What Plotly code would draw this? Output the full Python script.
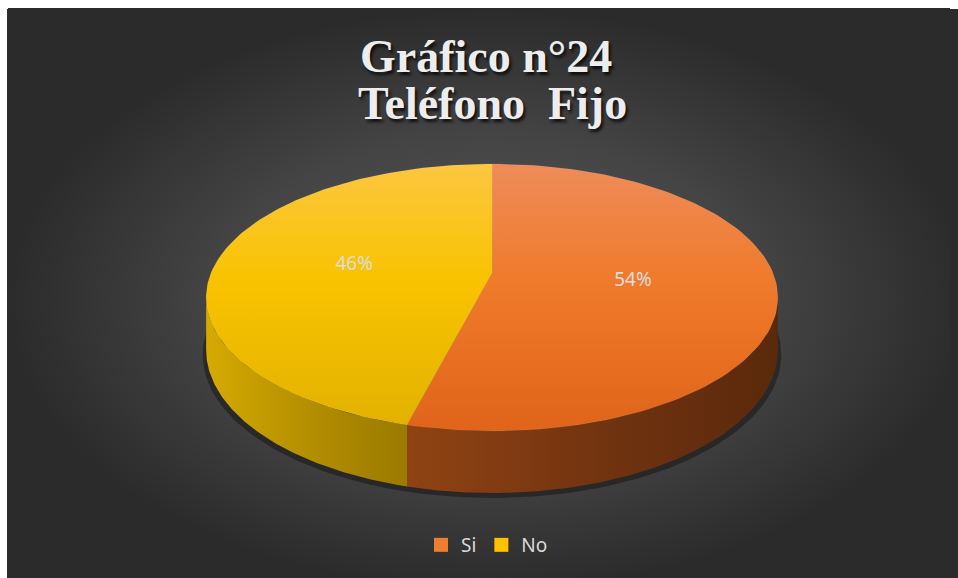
import math
import plotly.graph_objects as go

# ---- data ----
categories = ["Si", "No"]
values = [54, 46]
label_texts = ["54%", "46%"]
title_lines = ["Gráfico n°24", "Teléfono\u00a0 Fijo"]

# ---- styles ----
# vertical gradients: 0 = bottom of the face on screen, 1 = top
top_grad = {
    "Si": [[0, "#E0641A"], [0.55, "#EF7A2A"], [1, "#EE8C59"]],
    "No": [[0, "#E3B200"], [0.55, "#F9C300"], [1, "#FCC640"]],
}
side_grad = {
    "Si": [[0, "#904313"], [0.5, "#733410"], [1, "#5A290B"]],
    "No": [[0, "#D6AA00"], [0.5, "#B48F00"], [1, "#9B7A00"]],
}
legend_colors = {"Si": "#ED7D31", "No": "#FFC000"}

# projection geometry (screen pixel space)
CX, CY, A, B, P, T = 492, 273, 281, 129, 0.1835, 50.6
OFF = 8  # page offset of the figure


def proj(theta, r=1.0, z=0.0):
    t = math.radians(theta)
    u, v = r * math.sin(t), r * math.cos(t)
    w = 1 + P * v
    return CX + A * u / w, CY + (-B * v + T * z) / w


def arc(t1, t2, z=0.0, n=120):
    xs, ys = [], []
    for i in range(n + 1):
        x, y = proj(t1 + (t2 - t1) * i / n, 1.0, z)
        xs.append(x)
        ys.append(y)
    return xs, ys


fig = go.Figure()

# background with radial gradient
bx = [OFF - 1, 970, 970, OFF - 1, OFF - 1]
by = [OFF + 1, OFF + 1, 590, 590, OFF + 1]
fig.add_trace(go.Scatter(
    x=bx, y=by, mode="lines", fill="toself", line=dict(width=0),
    fillgradient=dict(type="radial", colorscale=[[0, "#575757"], [0.55, "#454545"], [1, "#2B2B2B"]]),
    hoverinfo="skip", showlegend=False))

# shadow under pie
sx, sy = arc(90, 270, 1.0)
sx = [CX + (x - CX) * 1.012 for x in sx]
sy = [y + 5 for y in sy]
fig.add_trace(go.Scatter(x=sx, y=sy, mode="lines", fill="toself", line=dict(width=0),
                         fillcolor="rgba(0,0,0,0.35)", hoverinfo="skip", showlegend=False))

total = sum(values)
theta_r = math.degrees(math.acos(-P))
theta_l = 360 - theta_r
start = 0.0
slices = []
for cat, val in zip(categories, values):
    end = start + 360.0 * val / total
    slices.append((cat, start, end))
    start = end

# sides
for cat, t1, t2 in slices:
    a, b = max(t1, theta_r), min(t2, theta_l)
    if a < b:
        tx, ty = arc(a, b, 0.0)
        bx2, by2 = arc(a, b, 1.0)
        fig.add_trace(go.Scatter(
            x=tx + bx2[::-1] + [tx[0]], y=ty + by2[::-1] + [ty[0]],
            mode="lines", fill="toself", line=dict(width=0),
            fillgradient=dict(type="horizontal", colorscale=side_grad[cat]),
            hoverinfo="skip", showlegend=False))

# tops
for cat, t1, t2 in slices:
    ax, ay = arc(t1, t2, 0.0)
    fig.add_trace(go.Scatter(
        x=[CX] + ax + [CX], y=[CY] + ay + [CY],
        mode="lines", fill="toself", line=dict(width=0.6, color="rgba(255,255,255,0.12)"),
        fillgradient=dict(type="vertical", colorscale=top_grad[cat]),
        hoverinfo="skip", showlegend=False))

# data labels
lx, ly = [], []
for cat, t1, t2 in slices:
    x, y = proj((t1 + t2) / 2, 0.5)
    lx.append(x)
    ly.append(y)
fig.add_trace(go.Scatter(x=lx, y=ly, mode="text", text=label_texts,
                         textfont=dict(family="Noto Sans", size=19, color="#DCDCDC"),
                         hoverinfo="skip", showlegend=False))

# legend entries
for cat in categories:
    fig.add_trace(go.Scatter(x=[None], y=[None], mode="markers", name=cat,
                             marker=dict(symbol="square", size=14, color=legend_colors[cat])))

# title
title_font = dict(family="Liberation Serif", size=46, color="#EDEDED",
                  shadow="2px 3px 3px rgba(0,0,0,0.75)")
fig.add_annotation(x=486, y=56, text="<b>%s</b>" % title_lines[0], showarrow=False,
                   font=title_font, xanchor="center", yanchor="middle")
fig.add_annotation(x=492, y=103, text="<b>%s</b>" % title_lines[1], showarrow=False,
                   font=title_font, xanchor="center", yanchor="middle")

fig.update_layout(
    width=958, height=578,
    margin=dict(l=0, r=0, t=0, b=0),
    paper_bgcolor="#2B2B2B", plot_bgcolor="rgba(0,0,0,0)",
    xaxis=dict(range=[OFF, 958 + OFF], visible=False, fixedrange=True),
    yaxis=dict(range=[578 + OFF, OFF], visible=False, fixedrange=True),
    legend=dict(orientation="h", x=0.5, xanchor="center", y=1 - (545 - OFF) / 578, yanchor="middle",
                font=dict(family="Noto Sans", size=19, color="#D9D9D9"),
                bgcolor="rgba(0,0,0,0)", itemwidth=30),
    showlegend=True,
)

page_css = """
document.documentElement.style.overflow = 'hidden';
document.body.style.overflow = 'hidden';
document.documentElement.style.background =
  'linear-gradient(to bottom, #ffffff 9px, rgba(0,0,0,0) 9px), ' +
  'linear-gradient(to right, #ffffff 7px, #2B2B2B 7px)';
"""
fig.write_html("out.html", post_script=page_css)
